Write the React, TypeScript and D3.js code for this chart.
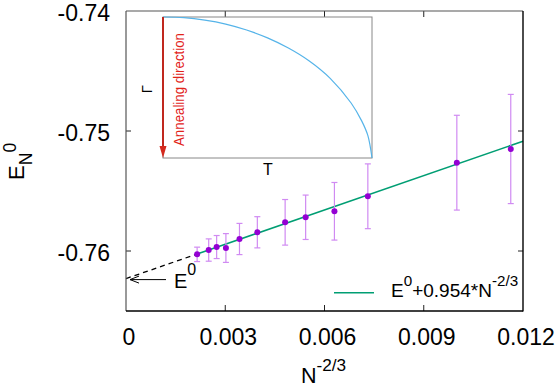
import React from "react";
import * as d3 from "d3";

// Main data: N^{-2/3}, ground-state energy per site, error bars
const xVals = [0.00215, 0.0025, 0.00274, 0.00302, 0.00343, 0.00397, 0.00481, 0.00543, 0.0063, 0.00731, 0.01, 0.01163];
const yVals = [-0.76028, -0.75992, -0.75967, -0.75975, -0.759, -0.75844, -0.75761, -0.75719, -0.75669, -0.75544, -0.75264, -0.7515];
const errVals = [0.0006, 0.00093, 0.00096, 0.0012, 0.0013, 0.0013, 0.0019, 0.00185, 0.0024, 0.0027, 0.00395, 0.00455];

// Fit E0 + 0.954 * N^{-2/3}
const fitE0 = -0.7623;
const fitSlope = 0.954;

const xTicks = [0, 0.003, 0.006, 0.009, 0.012];
const xTickLabels = ["0", "0.003", "0.006", "0.009", "0.012"];
const yTicks = [-0.74, -0.75, -0.76];
const yTickLabels = ["-0.74", "-0.75", "-0.76"];

// Inset schedule curve (normalized T, Gamma)
const insetT = [0, 0.1, 0.2, 0.3, 0.4, 0.5, 0.6, 0.7, 0.8, 0.9, 0.95, 0.98, 1];
const insetG = [1, 0.995, 0.978, 0.95, 0.908, 0.852, 0.78, 0.688, 0.565, 0.39, 0.265, 0.16, 0];

const FONT = "'Liberation Sans', Arial, Helvetica, sans-serif";

export default function App() {
  const L = 126, R = 523, T = 11, B = 311;
  const x = d3.scaleLinear().domain([0, 0.012]).range([L, R]);
  const y = d3.scaleLinear().domain([-0.765, -0.74]).range([B, T]);

  // inset geometry
  const iL = 163, iR = 372, iT = 17, iB = 158;
  const ix = d3.scaleLinear().domain([0, 1]).range([iL, iR]);
  const iy = d3.scaleLinear().domain([0, 1]).range([iB, iT]);
  const insetPath = d3
    .line<number>()
    .x((_, i) => ix(insetT[i]))
    .y((d) => iy(d))
    .curve(d3.curveCatmullRom)(insetG) as string;

  const fitLine = d3
    .line<number>()
    .x((d) => x(d))
    .y((d) => y(fitE0 + fitSlope * d));
  const x0 = xVals[0];
  const solidPath = fitLine([x0, 0.012]) as string;
  const dashPath = fitLine([0, x0]) as string;

  const capW = 3;
  const e0y = y(fitE0);

  return (
    <svg
      width={556}
      height={388}
      style={{ position: "absolute", left: 0, top: 0, background: "#fff" }}
      fontFamily={FONT}
    >
      <rect x={0} y={0} width={556} height={388} fill="#fff" />

      {/* ticks */}
      {xTicks.map((t, i) => (
        <g key={"xt" + i}>
          {i > 0 && i < xTicks.length - 1 && (
            <>
              <line x1={x(t)} x2={x(t)} y1={B} y2={B - 6} stroke="#222" strokeWidth={1} />
              <line x1={x(t)} x2={x(t)} y1={T} y2={T + 6} stroke="#222" strokeWidth={1} />
            </>
          )}
          <text x={x(t) + 3} y={345} fontSize={23} textAnchor="middle" fill="#000">
            {xTickLabels[i]}
          </text>
        </g>
      ))}
      {yTicks.map((t, i) => (
        <g key={"yt" + i}>
          {i > 0 && (
            <>
              <line x1={L} x2={L + 5} y1={y(t)} y2={y(t)} stroke="#222" strokeWidth={1} />
              <line x1={R} x2={R - 5} y1={y(t)} y2={y(t)} stroke="#222" strokeWidth={1} />
            </>
          )}
          <text x={110} y={y(t) + 9.5} fontSize={23} textAnchor="end" fill="#000">
            {yTickLabels[i]}
          </text>
        </g>
      ))}

      {/* fit lines */}
      <path d={dashPath} fill="none" stroke="#000" strokeWidth={1.3} strokeDasharray="5,4" />
      <path d={solidPath} fill="none" stroke="#009e73" strokeWidth={1.6} />

      {/* error bars */}
      {xVals.map((xv, i) => {
        const cx = x(xv);
        const yt = y(yVals[i] + errVals[i]);
        const yb = y(yVals[i] - errVals[i]);
        return (
          <g key={"e" + i} stroke="#d08af2" strokeWidth={1.2}>
            <line x1={cx} x2={cx} y1={yt} y2={yb} />
            <line x1={cx - capW} x2={cx + capW} y1={yt} y2={yt} />
            <line x1={cx - capW} x2={cx + capW} y1={yb} y2={yb} />
          </g>
        );
      })}
      {xVals.map((xv, i) => (
        <circle key={"p" + i} cx={x(xv)} cy={y(yVals[i])} r={3} fill="#9400d3" />
      ))}

      {/* E0 arrow */}
      <line x1={166} x2={L + 4} y1={e0y + 1} y2={e0y + 1} stroke="#000" strokeWidth={1} />
      <path
        d={`M${L + 13},${e0y - 2.5} L${L + 4},${e0y + 1} L${L + 13},${e0y + 4.5}`}
        fill="none"
        stroke="#000"
        strokeWidth={1}
      />
      <text x={174} y={288} fontSize={20} fill="#000">
        E<tspan fontSize={16} dy={-13}>0</tspan>
      </text>

      {/* legend */}
      <line x1={334} x2={374} y1={292.7} y2={292.7} stroke="#009e73" strokeWidth={1.6} />
      <text x={391} y={297} fontSize={19} fill="#000">
        E<tspan fontSize={15.2} dy={-11}>0</tspan>
        <tspan dy={11}>+0.954*N</tspan>
        <tspan fontSize={15.2} dy={-11}>-2/3</tspan>
      </text>

      {/* inset */}
      <rect x={iL} y={iT} width={iR - iL} height={iB - iT} fill="#fff" stroke="#888" strokeWidth={1} />
      <path d={insetPath} fill="none" stroke="#56b4e9" strokeWidth={1.2} />
      <line x1={iL} x2={iL} y1={iT} y2={iB - 10} stroke="#c0281e" strokeWidth={2} />
      <path d={`M${iL - 3.5},${iB - 12} L${iL + 3.5},${iB - 12} L${iL},${iB} Z`} fill="#d42a1e" />
      <text
        transform={`translate(184,146) rotate(-90)`}
        fontSize={14}
        fill="#e2231a"
        textLength={113}
        lengthAdjust="spacingAndGlyphs"
      >
        Annealing direction
      </text>
      <text x={268} y={175} fontSize={16} textAnchor="middle" fill="#000">
        T
      </text>
      <text transform={`translate(152,89) rotate(-90)`} fontSize={15} textAnchor="middle" fill="#000">
        Γ
      </text>

      {/* frame */}
      <line x1={L} x2={L} y1={T} y2={B} stroke="#555" strokeWidth={1.2} />
      <line x1={L} x2={R} y1={T} y2={T} stroke="#555" strokeWidth={1.2} />
      <line x1={R} x2={R} y1={T} y2={B + 0.6} stroke="#000" strokeWidth={1.4} />
      <line x1={L} x2={R} y1={B} y2={B} stroke="#000" strokeWidth={1.3} />

      {/* axis titles */}
      <text x={301} y={383} fontSize={21.5} fill="#000">
        N<tspan fontSize={17.2} dy={-12}>-2/3</tspan>
      </text>
      <text transform={`translate(24,180) rotate(-90)`} fontSize={22} fill="#000">
        E<tspan fontSize={17.6} dy={8}>N</tspan>
        <tspan fontSize={17.6} dy={-16.5}>0</tspan>
      </text>
    </svg>
  );
}
